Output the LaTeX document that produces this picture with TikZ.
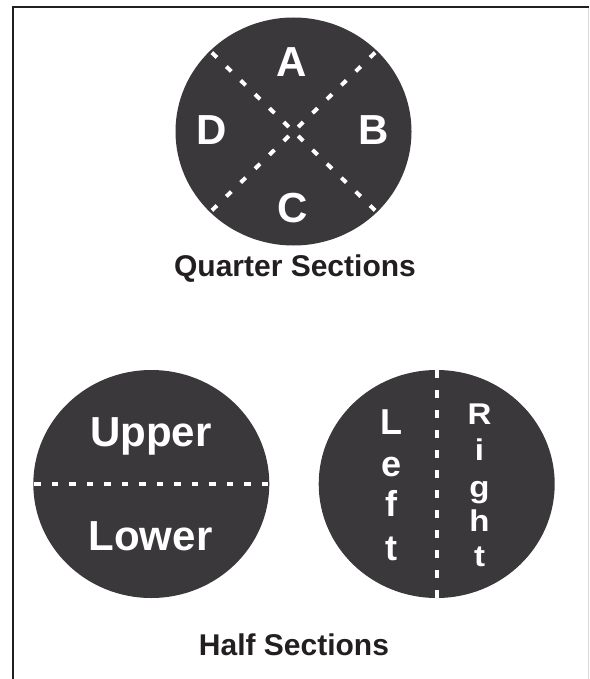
\documentclass[tikz,border=0pt]{standalone}
\usepackage{fontspec}
\setmainfont{Liberation Sans}
\definecolor{disc}{HTML}{3A383B}
\definecolor{ink}{HTML}{231F20}
\definecolor{framegrey}{HTML}{D8D8D8}
\tikzset{
  frameline/.style={draw=ink, line width=2.2pt},
  disc/.style={fill=disc},
  cutline/.style={draw=white, line width=4pt},
  biglabel/.style={text=white, inner sep=0pt, anchor=base, font=\fontsize{42}{42}\selectfont\bfseries},
  leftlabel/.style={text=white, inner sep=0pt, anchor=base, font=\fontsize{36}{36}\selectfont\bfseries},
  rightlabel/.style={text=white, inner sep=0pt, anchor=base, font=\fontsize{30}{30}\selectfont\bfseries, xscale=1.1, transform shape},
  caption/.style={text=ink, inner sep=0pt, anchor=base, font=\fontsize{30}{30}\selectfont\bfseries}
}
\begin{document}
\begin{tikzpicture}[x=1pt, y=-1pt]
\useasboundingbox (0,0) rectangle (589,679);
% frame
\coordinate (ftl) at (13,7);
\coordinate (ftr) at (589,7);
\coordinate (fbl) at (13,679);
\coordinate (frt) at (588,8);
\coordinate (frb) at (588,679);
\draw[frameline] (fbl) -- (ftl) -- (ftr);
\draw[framegrey, line width=1pt] (frt) -- (frb);

% quarter disc
\coordinate (q) at (293.5,131.5);
\fill[disc] (q) ellipse [x radius=118pt, y radius=114pt];
\begin{scope}
  \clip (q) ellipse [x radius=118pt, y radius=114pt];
  \coordinate (qnw) at (203,44);
  \coordinate (qne) at (384,44);
  \coordinate (qsw) at (203,219);
  \coordinate (qse) at (384,219);
  \foreach \p in {qnw,qne,qsw,qse}
    \draw[cutline, dash pattern=on 7pt off 13pt, dash phase=13.5pt] (q) -- (\p);
\end{scope}
\node[biglabel] (la) at (292,76.7) {A};
\node[biglabel] (lb) at (373.5,145) {B};
\node[biglabel] (lc) at (292.5,222) {C};
\node[biglabel] (ld) at (211.5,145) {D};
\node[caption] (qcap) at (295,276) {Quarter Sections};

% upper / lower disc
\coordinate (h) at (151.3,484);
\fill[disc] (h) ellipse [x radius=118pt, y radius=114pt];
\coordinate (hw) at (33.3,484);
\coordinate (he) at (269.3,484);
\draw[cutline, dash pattern=on 6.7pt off 10.8pt, dash phase=12.1pt] (h) -- (hw);
\draw[cutline, dash pattern=on 6.7pt off 10.8pt, dash phase=12.1pt] (h) -- (he);
\node[biglabel] (lup) at (151,446.7) {Upper};
\node[biglabel] (llo) at (150.5,550) {Lower};

% left / right disc
\coordinate (v) at (436.7,484);
\fill[disc] (v) ellipse [x radius=118pt, y radius=114pt];
\coordinate (vn) at (436.7,370);
\coordinate (vs) at (436.7,598);
\draw[cutline, dash pattern=on 8pt off 12pt, dash phase=14pt] (v) -- (vn);
\draw[cutline, dash pattern=on 8pt off 12pt, dash phase=14pt] (v) -- (vs);
\node[leftlabel] (l1) at (391.5,434.3) {L};
\node[leftlabel] (l2) at (391.5,476) {e};
\node[leftlabel] (l3) at (391.5,516.7) {f};
\node[leftlabel] (l4) at (391.5,560) {t};
\node[rightlabel] (r1) at (479.5,424.3) {R};
\node[rightlabel] (r2) at (479.5,460) {i};
\node[rightlabel] (r3) at (479.5,497.5) {g};
\node[rightlabel] (r4) at (479.5,531.7) {h};
\node[rightlabel] (r5) at (479.5,566.7) {t};
\node[caption] (hcap) at (294,655) {Half Sections};
\end{tikzpicture}
\end{document}
